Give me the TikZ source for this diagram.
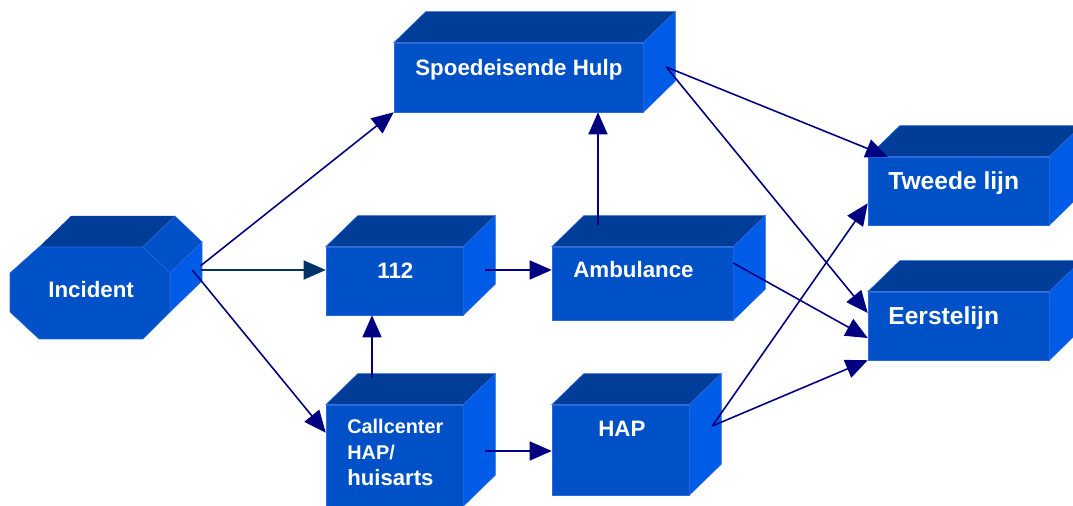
\documentclass[tikz,border=0pt]{standalone}
\usepackage{fontspec}
\setmainfont{Liberation Sans}
\usetikzlibrary{arrows.meta}
\newcommand\pxu{0.02cm}
\definecolor{frontblue}{RGB}{0,80,200}
\definecolor{topblue}{RGB}{0,61,153}
\definecolor{sideblue}{RGB}{0,92,230}
\definecolor{edgeblue}{RGB}{40,105,225}
\definecolor{arrownavy}{RGB}{0,0,128}
\definecolor{arrowslate}{RGB}{0,51,102}
\tikzset{
  frontface/.style 2 args={fill=frontblue, draw=edgeblue, line width=0.3pt, inner sep=0pt,
    minimum width=#1*\pxu, minimum height=#2*\pxu},
  topface/.style={fill=topblue, draw=edgeblue, line width=0.3pt},
  sideface/.style={fill=sideblue, draw=edgeblue, line width=0.3pt},
  lbl/.style={text=white, font=\bfseries\fontsize{12.7}{15}\selectfont, inner sep=0pt, anchor=base west},
  biglbl/.style={lbl, font=\bfseries\fontsize{14}{17}\selectfont},
  flow/.style={draw=arrownavy, line width=0.9pt, -{Triangle[length=0.44cm,width=0.38cm]}},
}
\begin{document}
\begin{tikzpicture}[x=0.02cm, y=-0.02cm]
    \useasboundingbox (0,0) rectangle (1073,506);
    % Incident (octagonal block)
    \fill[topblue] (39,247) -- (71,216) -- (175,216) -- (143,247) -- cycle;
    \filldraw[fill=frontblue, draw=edgeblue, line width=0.3pt] (143,247) -- (175,216) -- (202,242) -- (170,273) -- cycle;
    \filldraw[sideface] (170,273) -- (202,242) -- (202,281) -- (170,312) -- cycle;
    \filldraw[fill=frontblue, draw=edgeblue, line width=0.3pt] (39,247) -- (143,247) -- (170,273) -- (170,312)
        -- (143,339) -- (39,339) -- (10,312) -- (10,273) -- cycle;
    \node[inner sep=0pt, minimum width=160*\pxu, minimum height=92*\pxu] (inc) at (90,293) {};
    % blocks
    \node[frontface={249}{69}] (spoed) at (518.5,77.5) {};
    \node[frontface={137}{68}] (n112) at (394.5,281) {};
    \node[frontface={181}{73}] (amb) at (642.5,283.5) {};
    \node[frontface={137}{101}] (call) at (394.5,455.5) {};
    \node[frontface={137}{90}] (hap) at (620.5,450) {};
    \node[frontface={181}{68}] (tweede) at (958.5,191) {};
    \node[frontface={181}{68}] (eerste) at (958.5,326) {};
    \foreach \b in {spoed,n112,amb,call,hap,tweede,eerste}{
        \filldraw[topface] (\b.north west) -- ++(32,-31) -- ([shift={(32,-31)}]\b.north east) -- (\b.north east) -- cycle;
        \filldraw[sideface] (\b.north east) -- ++(32,-31) -- ([shift={(32,-31)}]\b.south east) -- (\b.south east) -- cycle;
    }
    % texts
    \node[lbl] (t-inc) at (48,298) {Incident};
    \node[lbl] (t-spoed) at (415,76) {Spoedeisende Hulp};
    \node[lbl] (t-112) at (377,279) {112};
    \node[lbl] (t-amb) at (573,278) {Ambulance};
    \node[lbl] (t-hap) at (598,437) {HAP};
    \node[biglbl] (t-tweede) at (888,190) {Tweede lijn};
    \node[biglbl] (t-eerste) at (888,325) {Eerstelijn};
    \node[lbl, anchor=north west, align=left, font=\bfseries\fontsize{11.3}{14.8}\selectfont] (t-call) at (347,419)
        {Callcenter\\HAP/\\{\fontsize{12.6}{14.8}\selectfont huisarts}};
    % connectors
    \draw[flow] ([shift={(30,-27)}]inc.east) -- (spoed.south west);
    \coordinate (i2) at ([shift={(30,-23)}]inc.east);
    \draw[flow, draw=arrowslate] (i2) -- (i2 -| n112.west);
    \draw[flow] ([shift={(22,-23)}]inc.east) -- ([shift={(0,28)}]call.north west);
    \coordinate (c1) at ([shift={(-22.5,-27)}]call.north);
    \draw[flow] (c1) -- (c1 |- n112.south);
    \coordinate (c2) at ([shift={(22,-4.5)}]call.east);
    \draw[flow] (c2) -- (c2 -| hap.west);
    \coordinate (n1) at ([shift={(22,-11)}]n112.east);
    \draw[flow] (n1) -- (n1 -| amb.west);
    \coordinate (a1) at ([shift={(-44.5,-22)}]amb.north);
    \draw[flow] (a1) -- (a1 |- spoed.south);
    \draw[flow] ([shift={(0,-20.5)}]amb.east) -- ([shift={(0,12)}]eerste.west);
    \coordinate (s1) at ([shift={(23,-10.5)}]spoed.east);
    \draw[flow] (s1) -- ([shift={(20,0)}]tweede.north west);
    \draw[flow] (s1) -- ([shift={(0,-13)}]eerste.west);
    \coordinate (h1) at ([shift={(23,-24)}]hap.east);
    \draw[flow] (h1) -- ([shift={(0,-22)}]tweede.south west);
    \draw[flow] (h1) -- (eerste.south west);
\end{tikzpicture}
\end{document}
